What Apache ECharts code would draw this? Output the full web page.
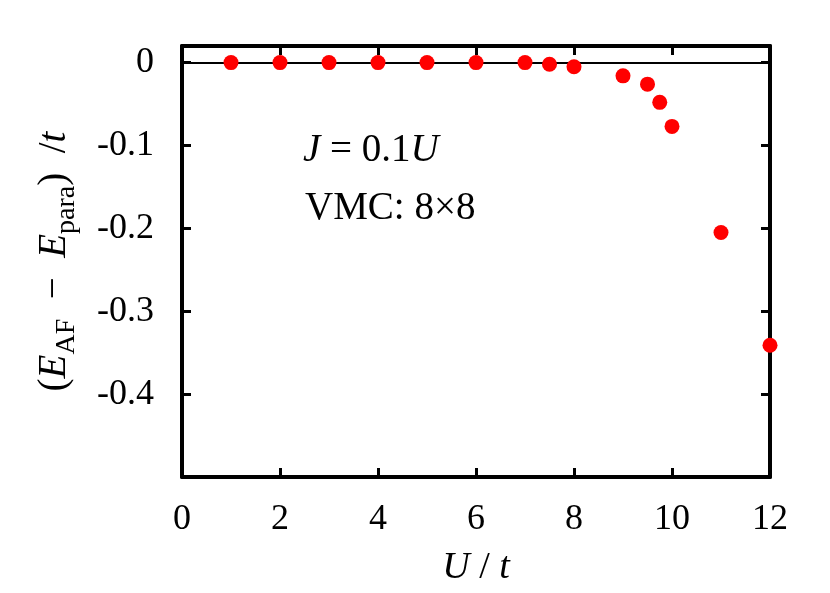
<!DOCTYPE html>
<html><head><meta charset="utf-8">
<script src="https://cdn.jsdelivr.net/npm/echarts@6/dist/echarts.min.js"></script>
<style>html,body{margin:0;padding:0;background:#fff}#c{width:830px;height:593px}</style>
</head><body><div id="c"></div>
<script>
const U = [1, 2, 3, 4, 5, 6, 7, 7.5, 8, 9, 9.5, 9.75, 10, 11, 12];
const dE = [0, 0, 0, 0, 0, 0, 0, -0.002, -0.005, -0.016, -0.026, -0.048, -0.077, -0.205, -0.341];
const xTicks = [0, 2, 4, 6, 8, 10, 12];
const yTicks = [0, -0.1, -0.2, -0.3, -0.4];
const annot2 = 'VMC: 8×8';

const F = 'Liberation Serif';
const chart = echarts.init(document.getElementById('c'), null, {renderer: 'canvas'});
const tickStyle = {inside: true, length: 9, lineStyle: {color: '#000', width: 3}};
const lineStyle = {color: '#000', width: 4};
const xBase = {type: 'value', min: 0, max: 12, interval: 2, splitLine: {show: false},
  axisLine: {show: true, onZero: false, lineStyle}, axisTick: tickStyle};
const yBase = {type: 'value', min: -0.5, max: 0.02, interval: 0.1, splitLine: {show: false},
  axisLine: {show: true, onZero: false, lineStyle}, axisTick: tickStyle};

chart.setOption({
  animation: false,
  backgroundColor: '#fff',
  grid: {left: 182, right: 60, top: 46, bottom: 116},
  xAxis: [
    Object.assign({}, xBase, {position: 'bottom',
      axisLabel: {color: '#000', fontFamily: F, fontSize: 36, margin: 25,
        formatter: v => xTicks.includes(v) ? String(v) : ''},
      name: '{i|U}{n| / }{i|t}', nameLocation: 'middle', nameGap: 72,
      nameTextStyle: {rich: {i: {fontFamily: F, fontStyle: 'italic', fontSize: 38, color: '#000'},
        n: {fontFamily: F, fontSize: 38, color: '#000'}}}}),
    Object.assign({}, xBase, {position: 'top', axisLabel: {show: false}})
  ],
  yAxis: [
    Object.assign({}, yBase, {position: 'left',
      axisLabel: {color: '#000', fontFamily: F, fontSize: 36, margin: 28, showMaxLabel: false, showMinLabel: false,
        formatter: v => { const r = Math.round(v * 10) / 10; return yTicks.includes(r) && Math.abs(v - r) < 1e-9 ? (r === 0 ? '0' : r.toFixed(1)) : ''; }},
      name: '{n|(}{i|E}{s|AF}{n|  −  }{i|E}{s|para}{n|)  /}{i|t}', nameLocation: 'middle', nameGap: 104, nameRotate: 90,
      nameTextStyle: {rich: {
        i: {fontFamily: F, fontStyle: 'italic', fontSize: 39, color: '#000', lineHeight: 46, verticalAlign: 'middle'},
        n: {fontFamily: F, fontSize: 39, color: '#000', lineHeight: 46, verticalAlign: 'middle'},
        s: {fontFamily: F, fontSize: 28, color: '#000', lineHeight: 46, verticalAlign: 'middle', padding: [24, 0, 0, 0]}
      }}}),
    Object.assign({}, yBase, {position: 'right', axisLabel: {show: false}})
  ],
  graphic: [
    {type: 'text', left: 303, top: 131, style: {
      text: '{i|J}{n| = 0.1}{i|U}', rich: {
        i: {fontFamily: F, fontStyle: 'italic', fontSize: 39, fill: '#000'},
        n: {fontFamily: F, fontSize: 39, fill: '#000'}}}},
    {type: 'text', left: 305, top: 189, style: {text: annot2, font: '39px "Liberation Serif"', fill: '#000'}}
  ],
  series: [{
    type: 'scatter', xAxisIndex: 0, yAxisIndex: 0,
    data: U.map((u, i) => [u, dE[i]]),
    symbol: 'circle', symbolSize: 15,
    itemStyle: {color: '#ff0000', opacity: 1},
    z: 5,
    markLine: {silent: true, symbol: 'none', label: {show: false},
      lineStyle: {color: '#000', width: 2, type: 'solid'},
      data: [{yAxis: 0}]}
  }]
});
</script></body></html>
